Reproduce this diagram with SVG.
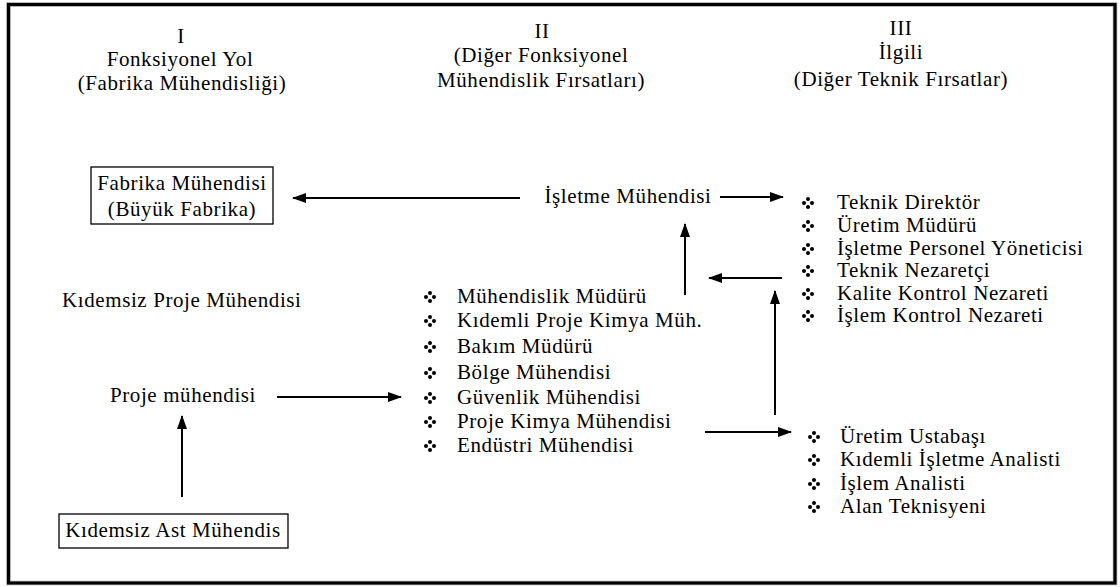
<svg xmlns="http://www.w3.org/2000/svg" xmlns:xlink="http://www.w3.org/1999/xlink" width="1120" height="587" viewBox="0 0 1120 587">
  <style>
    text { font-family: "Liberation Serif", "Times New Roman", serif; font-size: 21px; letter-spacing: 0.6px; fill: #000; }
    .c { text-anchor: middle; }
    .box { fill: #fff; stroke: #000; stroke-width: 1.3; }
    .conn { stroke: #000; stroke-width: 2; fill: none; marker-end: url(#arrow); }
  </style>
  <defs>
    <marker id="arrow" markerUnits="userSpaceOnUse" markerWidth="14" markerHeight="12" refX="13" refY="6" orient="auto">
      <path d="M0,1 L14,6 L0,11 Z" fill="#000"/>
    </marker>
    <!-- four-dot diamond bullet -->
    <g id="bullet">
      <circle cx="0" cy="-4" r="2" fill="#000"/>
      <circle cx="-4" cy="0" r="2" fill="#000"/>
      <circle cx="4" cy="0" r="2" fill="#000"/>
      <circle cx="0" cy="4" r="2" fill="#000"/>
    </g>
  </defs>

  <rect width="1120" height="587" fill="#fff"/>
  <!-- frame -->
  <rect x="8.5" y="4.5" width="1106.5" height="578.5" fill="none" stroke="#a0a0a0" stroke-width="4.5"/>
  <rect x="8.5" y="4.5" width="1106.5" height="578.5" fill="none" stroke="#000" stroke-width="3"/>

  <!-- column headings -->
  <g id="head-1">
    <text class="c" x="181" y="43">I</text>
    <text class="c" x="180" y="66">Fonksiyonel Yol</text>
    <text class="c" x="182" y="90">(Fabrika Mühendisliği)</text>
  </g>
  <g id="head-2">
    <text class="c" x="542" y="38">II</text>
    <text class="c" x="541" y="62">(Diğer Fonksiyonel</text>
    <text class="c" x="541" y="87">Mühendislik Fırsatları)</text>
  </g>
  <g id="head-3">
    <text class="c" x="901" y="35">III</text>
    <text class="c" x="901" y="59">İlgili</text>
    <text class="c" x="901" y="86">(Diğer Teknik Fırsatlar)</text>
  </g>

  <!-- column I -->
  <g id="fabrika-muhendisi">
    <rect class="box" x="91" y="167" width="182" height="57"/>
    <text class="c" x="182" y="190">Fabrika Mühendisi</text>
    <text class="c" x="182" y="216">(Büyük Fabrika)</text>
  </g>
  <g id="kidemsiz-proje">
    <text x="62" y="307">Kıdemsiz Proje Mühendisi</text>
  </g>
  <g id="proje-muhendisi">
    <text class="c" x="183" y="402">Proje mühendisi</text>
  </g>
  <g id="kidemsiz-ast">
    <rect class="box" x="59" y="514" width="229" height="34"/>
    <text class="c" x="173" y="537">Kıdemsiz Ast Mühendis</text>
  </g>

  <!-- column II -->
  <g id="isletme-muhendisi">
    <text class="c" x="628" y="203">İşletme Mühendisi</text>
  </g>
  <g id="muhendislik-listesi">
    <use xlink:href="#bullet" x="430" y="297"/>
    <text x="457" y="303">Mühendislik Müdürü</text>
    <use xlink:href="#bullet" x="430" y="321"/>
    <text x="457" y="327">Kıdemli Proje Kimya Müh.</text>
    <use xlink:href="#bullet" x="430" y="347"/>
    <text x="457" y="353">Bakım Müdürü</text>
    <use xlink:href="#bullet" x="430" y="373"/>
    <text x="457" y="379">Bölge Mühendisi</text>
    <use xlink:href="#bullet" x="430" y="398"/>
    <text x="457" y="404">Güvenlik Mühendisi</text>
    <use xlink:href="#bullet" x="430" y="422"/>
    <text x="457" y="428">Proje Kimya Mühendisi</text>
    <use xlink:href="#bullet" x="430" y="446"/>
    <text x="457" y="452">Endüstri Mühendisi</text>
  </g>

  <!-- column III -->
  <g id="teknik-ust-liste">
    <use xlink:href="#bullet" x="808" y="203"/>
    <text x="837" y="209">Teknik Direktör</text>
    <use xlink:href="#bullet" x="808" y="226"/>
    <text x="837" y="232">Üretim Müdürü</text>
    <use xlink:href="#bullet" x="808" y="249"/>
    <text x="837" y="255">İşletme Personel Yöneticisi</text>
    <use xlink:href="#bullet" x="808" y="271"/>
    <text x="837" y="277">Teknik Nezaretçi</text>
    <use xlink:href="#bullet" x="808" y="294"/>
    <text x="837" y="300">Kalite Kontrol Nezareti</text>
    <use xlink:href="#bullet" x="808" y="316"/>
    <text x="837" y="322">İşlem Kontrol Nezareti</text>
  </g>
  <g id="teknik-alt-liste">
    <use xlink:href="#bullet" x="814" y="437"/>
    <text x="840" y="443">Üretim Ustabaşı</text>
    <use xlink:href="#bullet" x="814" y="460"/>
    <text x="840" y="466">Kıdemli İşletme Analisti</text>
    <use xlink:href="#bullet" x="814" y="484"/>
    <text x="840" y="490">İşlem Analisti</text>
    <use xlink:href="#bullet" x="814" y="507"/>
    <text x="840" y="513">Alan Teknisyeni</text>
  </g>

  <!-- connectors -->
  <g id="connectors">
    <line class="conn" x1="520" y1="198" x2="293" y2="198"/>
    <line class="conn" x1="720" y1="197" x2="783" y2="197"/>
    <line class="conn" x1="685" y1="295" x2="685" y2="224"/>
    <line class="conn" x1="782" y1="278" x2="709" y2="278"/>
    <line class="conn" x1="775" y1="415" x2="775" y2="291"/>
    <line class="conn" x1="277" y1="397" x2="401" y2="397"/>
    <line class="conn" x1="182" y1="497" x2="182" y2="416"/>
    <line class="conn" x1="705" y1="432" x2="791" y2="432"/>
  </g>
</svg>
